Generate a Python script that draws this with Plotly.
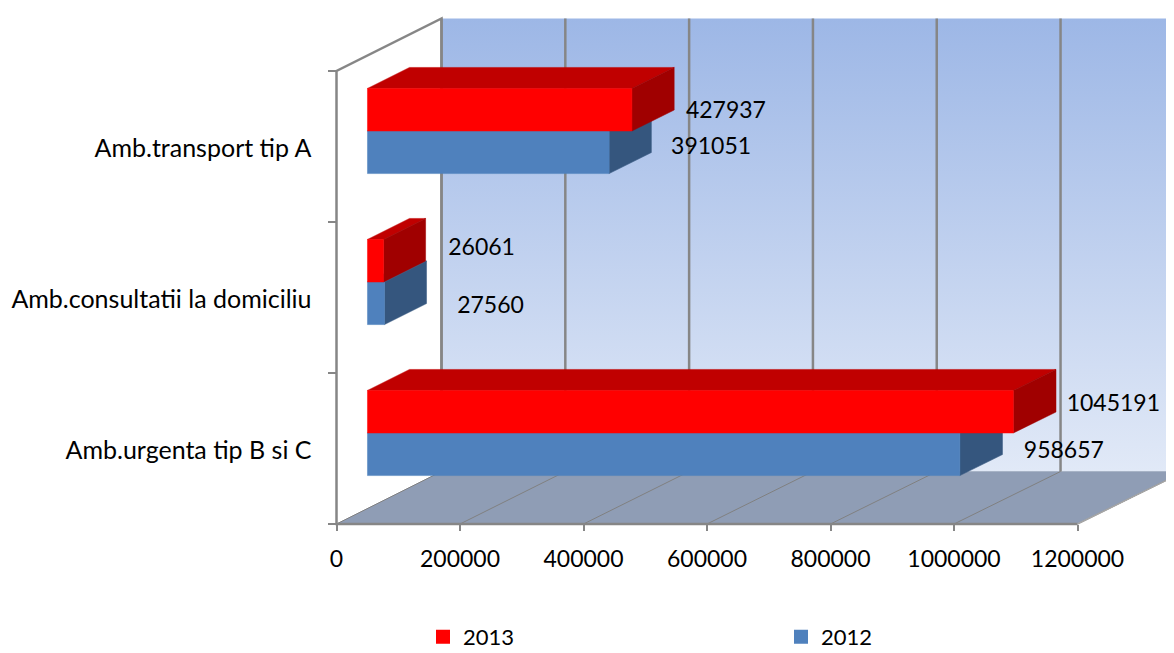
import plotly.graph_objects as go

categories = ["Amb.urgenta tip B si C", "Amb.consultatii la domiciliu", "Amb.transport tip A"]
values_2012 = [958657, 27560, 391051]
values_2013 = [1045191, 26061, 427937]
value_ticks = [0, 200000, 400000, 600000, 800000, 1000000, 1200000]
tick_labels = ["0", "200000", "400000", "600000", "800000", "1000000", "1200000"]

# Label nudges in pixels, relative to bar end on the front face (separate from data)
nudge_2012 = [(104, -2), (106, 4), (102, -4)]
nudge_2013 = [(100, -6), (98, -11), (94, 3)]

W, H = 1166, 645               # page body has an 8px margin
X0, Y0 = 328.5, 516.0          # pixel of the axis origin within the figure
KX = 741.0 / 1200000           # px per value
KY = 151.0                     # px per category
DX, DY = 105.0, 52.5           # px of full depth (right, up)
D_FRONT, D_BACK = 0.295, 0.695
GAP, BAR_H = 0.218, 0.282
VMAX = value_ticks[-1]
FONT = "Lato"
FS = 23
GRID = "#868686"


def P(v, c, d=0.0):
    """Project (value, category position, depth) to the plain axes units."""
    return v * (1 + 0.0025 * d) + d * DX / KX, c + d * DY / KY


def poly(pts, color=None, **kw):
    xs, ys = zip(*[P(*p) for p in pts])
    if color is None:
        return go.Scatter(x=list(xs), y=list(ys), mode="lines", hoverinfo="skip",
                          showlegend=False, **kw)
    return go.Scatter(x=list(xs) + [xs[0]], y=list(ys) + [ys[0]], mode="lines", fill="toself",
                      fillcolor=color, line=dict(color=color, width=0.5),
                      hoverinfo="skip", showlegend=False)


fig = go.Figure()

# back wall with gradient
xs, ys = zip(*[P(*p) for p in [(0, 0, 1), (VMAX, 0, 1), (VMAX, 3, 1), (0, 3, 1), (0, 0, 1)]])
fig.add_trace(go.Scatter(x=list(xs), y=list(ys), mode="lines", fill="toself",
                         line=dict(width=0), hoverinfo="skip", showlegend=False,
                         fillgradient=dict(type="vertical",
                                           colorscale=[[0, "#E1E9F7"], [1, "#9DB7E6"]])))
# floor
fig.add_trace(poly([(0, 0, 0), (VMAX, 0, 0), (VMAX, 0, 1), (0, 0, 1)], "#8F9DB5"))
# grid: walls and floor
for v in value_ticks:
    fig.add_trace(poly([(v, 0, 1), (v, 3, 1)], line=dict(color=GRID, width=2.5)))
    fig.add_trace(poly([(v, 0, 0), (v, 0, 1)], line=dict(color="#808080", width=1)))
fig.add_trace(poly([(0, 0, 1), (0, 3, 1), (0, 3, 0), (0, 0, 0), (VMAX, 0, 0)],
                   line=dict(color=GRID, width=2.5)))
fig.add_trace(poly([(VMAX, 0, 0), (VMAX, 0, 1)], line=dict(color="#A6A6A6", width=1.5)))


def bar(value, low, front, top, side):
    c0, c1 = low, low + BAR_H
    fig.add_trace(poly([(0, c1, D_FRONT), (value, c1, D_FRONT), (value, c1, D_BACK), (0, c1, D_BACK)], top))
    fig.add_trace(poly([(value, c0, D_FRONT), (value, c1, D_FRONT), (value, c1, D_BACK), (value, c0, D_BACK)], side))
    fig.add_trace(poly([(0, c0, D_FRONT), (value, c0, D_FRONT), (value, c1, D_FRONT), (0, c1, D_FRONT)], front))


for i in range(len(categories)):
    bar(values_2012[i], i + GAP, "#4F81BD", "#4A76A8", "#35567E")
    bar(values_2013[i], i + GAP + BAR_H, "#FF0000", "#C00000", "#A00000")

# data labels
lx, ly, lt = [], [], []
for i in range(len(categories)):
    for val, low, (nx, ny) in ((values_2012[i], i + GAP, nudge_2012[i]),
                               (values_2013[i], i + GAP + BAR_H, nudge_2013[i])):
        x, y = P(val, low + BAR_H / 2, D_FRONT)
        lx.append(x + nx / KX)
        ly.append(y - ny / KY)
        lt.append(str(val))
fig.add_trace(go.Scatter(x=lx, y=ly, text=lt, mode="text", textposition="middle center",
                         textfont=dict(family=FONT, size=FS, color="black"),
                         hoverinfo="skip", showlegend=False))

# legend entries
fig.add_trace(go.Scatter(x=[None], y=[None], name="2013", mode="markers",
                         marker=dict(symbol="square", size=16, color="#FF0000",
                                     line=dict(color="#FF0000", width=2))))
fig.add_trace(go.Scatter(x=[None], y=[None], name="2012", mode="markers",
                         marker=dict(symbol="square", size=16, color="#4F81BD",
                                     line=dict(color="#4F81BD", width=2))))

fig.update_layout(
    width=W, height=H, margin=dict(l=0, r=0, t=0, b=0, autoexpand=False),
    paper_bgcolor="white", plot_bgcolor="white",
    font=dict(family=FONT, size=FS, color="black"),
    xaxis=dict(range=[-X0 / KX, (W - X0) / KX], domain=[0, 1], anchor="free",
               position=(H - Y0) / H, tickvals=value_ticks, ticktext=tick_labels,
               ticks="outside", ticklen=6, tickangle=0,
               tickcolor=GRID, tickwidth=2, ticklabelstandoff=8, showgrid=False,
               zeroline=False, showline=False),
    yaxis=dict(range=[(Y0 - H) / KY, Y0 / KY], domain=[0, 1], anchor="free",
               position=X0 / W, tickvals=[0.49, 1.49, 2.49], ticktext=categories, ticks="",
               tickfont=dict(size=25),
               ticklabelstandoff=25, showgrid=False, zeroline=False, showline=False,
               minor=dict(tickvals=[0, 1, 2, 3], ticks="outside", ticklen=9,
                          tickcolor=GRID, tickwidth=2, showgrid=False)),
    legend=dict(orientation="h", x=415 / W, xanchor="left", y=16 / H, yanchor="middle",
                entrywidth=313, entrywidthmode="pixels", itemsizing="constant",
                font=dict(size=22), bgcolor="rgba(0,0,0,0)"),
    showlegend=True,
)

fig.write_html("out.html")
